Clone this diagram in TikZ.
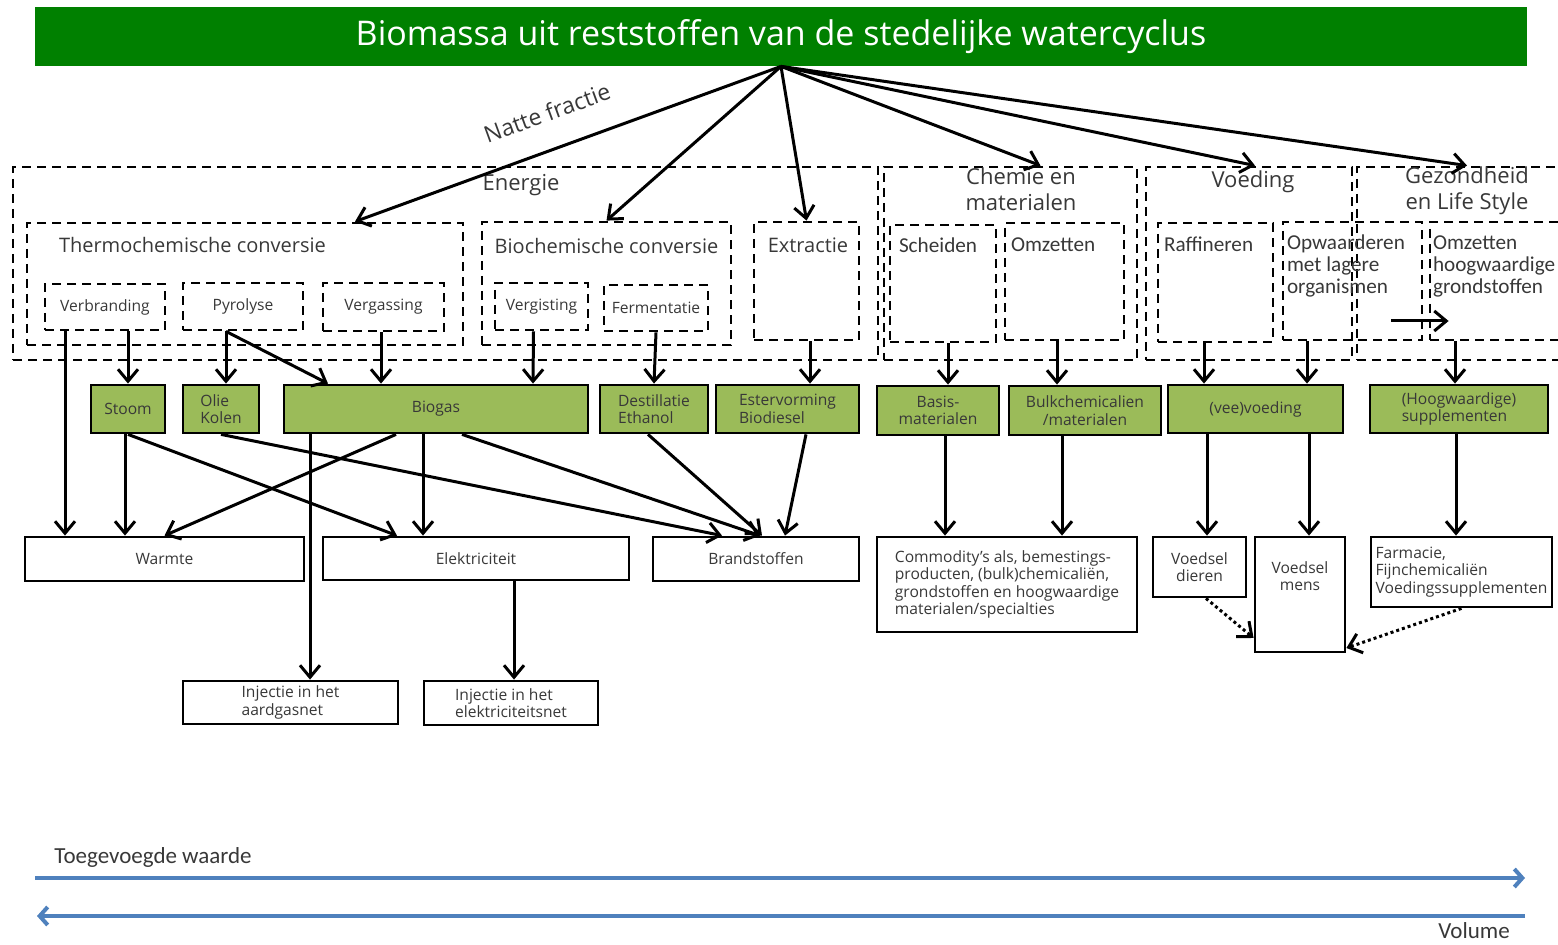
\documentclass[tikz,border=0pt]{standalone}
\usepackage{fontspec}
\setmainfont{Open Sans}
\newfontfamily\calib{Carlito}
\usetikzlibrary{arrows.meta}
\definecolor{titlegreen}{RGB}{0,128,0}
\definecolor{boxgreen}{RGB}{155,187,89}
\definecolor{axisblue}{RGB}{79,129,189}
\definecolor{txtgray}{RGB}{56,56,56}
\begin{document}
\begin{tikzpicture}[x=0.5pt,y=-0.5pt,
	sz/.style 2 args={minimum width=#1*0.5pt,minimum height=#2*0.5pt},
	dbox/.style={draw,line width=1.4pt,dash pattern=on 4.5pt off 3pt,inner sep=1pt,text=txtgray,font=\fontsize{7.8}{8.7}\selectfont},
	gbox/.style={draw,fill=boxgreen,line width=1.4pt,inner sep=1pt,text=txtgray,font=\fontsize{7.8}{8.7}\selectfont},
	wbox/.style={draw,fill=white,line width=1.4pt,inner sep=1pt,text=txtgray,font=\fontsize{7.8}{8.7}\selectfont},
	hd/.style={text=txtgray,font=\fontsize{11}{13}\selectfont,align=center,inner sep=0pt},
	sub/.style={text=txtgray,font=\fontsize{10}{12}\selectfont,inner sep=0pt},
	subc/.style={text=txtgray,font=\calib\fontsize{10.6}{11}\selectfont,align=left,inner sep=0pt},
	arr/.style={line width=1.5pt,-{Straight Barb[length=6pt,width=10pt]}},
	dotarr/.style={arr,dash pattern=on 1.5pt off 1.5pt},
	barr/.style={axisblue,line width=2pt,-{Straight Barb[length=4pt,width=9pt]}},
	axl/.style={text=txtgray,font=\calib\fontsize{11.5}{13}\selectfont,inner sep=0pt}]
	\useasboundingbox (0,0) rectangle (1558,945);
	\clip (0,0) rectangle (1558,945);
	% title
	\node[fill=titlegreen,text=white,font=\fontsize{17}{20}\selectfont,sz={1492}{59}] at (781,36.5) (title) {Biomassa uit reststoffen van de stedelijke watercyclus};
	% domains
	\node[dbox,sz={865}{193},label={[hd,anchor=north,xshift=37.75pt,yshift=-4pt]north:Energie}] at (445.5,263.5) (energie) {};
	\node[dbox,sz={253}{193},label={[hd,anchor=north,xshift=5.25pt,yshift=-1pt]north:Chemie en\\materialen}] at (1010.5,263.5) (chemie) {};
	\node[dbox,sz={206}{193},label={[hd,anchor=north,xshift=2pt,yshift=-2.5pt]north:Voeding}] at (1249,263.5) (voeding) {};
	\node[dbox,sz={220}{193},label={[hd,anchor=north,yshift=-0.5pt]north:Gezondheid\\en Life Style}] at (1467,263.5) (gezond) {};
	% processes
	\node[dbox,sz={436}{122},label={[sub,anchor=north west,xshift=16.5pt,yshift=-7.5pt]north west:Thermochemische conversie}] at (245,284) (thermo) {};
	\node[dbox,sz={120}{46}] at (105,307) (verbr) {Verbranding};
	\node[dbox,sz={120}{47}] at (243,306.5) (pyro) {Pyrolyse};
	\node[dbox,sz={121}{48}] at (383.5,307) (vergas) {Vergassing};
	\node[dbox,sz={249}{123},label={[sub,anchor=north,yshift=-8.5pt]north:Biochemische conversie}] at (606.5,283.5) (bio) {};
	\node[dbox,sz={93}{47}] at (541.5,306.5) (vergist) {Vergisting};
	\node[dbox,sz={104}{46}] at (656,308) (ferment) {Fermentatie};
	\node[dbox,sz={105}{118},label={[sub,anchor=north,xshift=0.75pt,yshift=-8.5pt]north:Extractie}] at (806.5,281) (extr) {};
	\node[dbox,sz={106}{117},label={[subc,anchor=north west,xshift=5pt,yshift=-7pt]north west:Scheiden}] at (943,283.5) (scheid) {};
	\node[dbox,sz={119}{117},label={[subc,anchor=north west,xshift=3.5pt,yshift=-8pt]north west:Omzetten}] at (1064.5,281.5) (omzet) {};
	\node[dbox,sz={115}{119},label={[subc,anchor=north west,xshift=3.5pt,yshift=-7.5pt]north west:Raffineren}] at (1215.5,282.5) (raffin) {};
	\node[dbox,sz={139}{118},label={[subc,anchor=north west,xshift=2.5pt,yshift=-7pt]north west:Opwaarderen\\met lagere\\organismen}] at (1352.5,281) (opwaard) {};
	\node[dbox,sz={170}{118},label={[subc,anchor=north west,xshift=2pt,yshift=-7.5pt]north west:Omzetten\\hoogwaardige\\grondstoffen}] at (1515,281) (omzhoog) {};
	% intermediates
	\node[gbox,sz={74}{48}] at (128,409) (stoom) {Stoom};
	\node[gbox,sz={76}{48},align=left] at (221,409) (olie) {Olie\\Kolen};
	\node[gbox,sz={304}{48}] at (436,409) (biogas) {Biogas};
	\node[gbox,sz={108}{48},align=left] at (654,409) (destil) {Destillatie\\Ethanol};
	\node[gbox,sz={143}{48},align=left] at (787.5,409) (ester) {Estervorming\\Biodiesel};
	\node[gbox,sz={122}{49},align=center] at (938,410.5) (basis) {Basis-\\materialen};
	\node[gbox,sz={152}{49},align=center] at (1085,410.5) (bulk) {Bulkchemicalien\\/materialen};
	\node[gbox,sz={175}{48}] at (1255.5,409) (vee) {(vee)voeding};
	\node[gbox,sz={178}{48},align=left] at (1459,409) (hoogw) {(Hoogwaardige)\\supplementen};
	% products
	\node[wbox,sz={279}{44}] at (164.5,559) (warmte) {Warmte};
	\node[wbox,sz={306}{43}] at (476,558.5) (elek) {Elektriciteit};
	\node[wbox,sz={206}{44}] at (756,559) (brand) {Brandstoffen};
	\node[wbox,sz={260}{95},align=left] at (1007,584.5) (commod) {Commodity’s als, bemestings-\\producten, (bulk)chemicaliën,\\grondstoffen en hoogwaardige\\materialen/specialties};
	\node[wbox,sz={93}{60},align=center] at (1199.5,567) (vdieren) {Voedsel\\dieren};
	\node[wbox,sz={90}{115},label={[anchor=north,align=center,text=txtgray,font=\fontsize{7.8}{8.7}\selectfont,yshift=-9.5pt]north:Voedsel\\mens}] at (1300,594.5) (vmens) {};
	\node[wbox,sz={181}{70},align=left] at (1461.5,572) (farma) {Farmacie,\\Fijnchemicaliën\\Voedingssupplementen};
	\node[wbox,sz={215}{43},align=left] at (290.5,702.5) (injgas) {Injectie in het\\aardgasnet};
	\node[wbox,sz={174}{44},align=left] at (511,703) (injel) {Injectie in het\\elektriciteitsnet};
	% fan out
	\path[arr] (title.south) edge node[hd,pos=.52,sloped,above=13pt,font=\fontsize{11.5}{13}\selectfont] {Natte fractie} ([xshift=55pt]thermo.north)
	(title.south) edge (bio.north)
	(title.south) edge (extr.north)
	(title.south) edge ([xshift=15pt]chemie.north)
	(title.south) edge ([xshift=3pt]voeding.north)
	(title.south) edge (gezond.north);
	% processes to intermediates
	\path[arr] ([xshift=11.5pt]verbr.south) edge (stoom.north)
	([xshift=-20pt]verbr.south) edge ([xshift=-49.75pt]warmte.north)
	([xshift=-8.5pt]pyro.south) edge ([xshift=2.5pt]olie.north)
	([xshift=-8.5pt]pyro.south) edge ([xshift=-54pt]biogas.north)
	([xshift=-1.25pt]vergas.south) edge ([xshift=-27.5pt]biogas.north)
	([xshift=-4pt]vergist.south) edge ([xshift=48.5pt]biogas.north)
	(ferment.south) edge (destil.north)
	([xshift=1.75pt]extr.south) edge ([xshift=11.25pt]ester.north)
	([xshift=2.5pt]scheid.south) edge ([xshift=5pt]basis.north)
	([xshift=-3.75pt]omzet.south) edge ([xshift=-14pt]bulk.north)
	([xshift=-5.75pt]raffin.south) edge ([xshift=-25.75pt]vee.north)
	([xshift=-22.75pt]opwaard.south) edge ([xshift=25.75pt]vee.north)
	([xshift=-30pt]omzhoog.south) edge ([xshift=-2pt]hoogw.north)
	([xshift=-16pt,yshift=-20pt]opwaard.east) edge ([xshift=10pt,yshift=-20pt]omzhoog.west);
	% intermediates to products
	\path[arr] ([xshift=-1.5pt]stoom.south) edge ([xshift=-19.75pt]warmte.north)
	(stoom.south) edge ([xshift=-39.5pt]elek.north)
	(olie.south) edge ([xshift=-17pt]brand.north)
	([xshift=-20pt]biogas.south) edge (warmte.north)
	([xshift=-6.5pt]biogas.south) edge ([xshift=-26.5pt]elek.north)
	([xshift=-63pt]biogas.south) edge ([xshift=9.75pt]injgas.north)
	([xshift=13pt]biogas.south) edge ([xshift=2pt]brand.north)
	([xshift=-3pt]destil.south) edge ([xshift=3pt]brand.north)
	([xshift=9.25pt]ester.south) edge ([xshift=14.5pt]brand.north)
	([xshift=19pt]elek.south) edge ([xshift=1.5pt]injel.north)
	([xshift=3.5pt]basis.south) edge ([xshift=-31pt]commod.north)
	([xshift=-11.5pt]bulk.south) edge ([xshift=27.5pt]commod.north)
	([xshift=-24.25pt]vee.south) edge ([xshift=3.75pt]vdieren.north)
	([xshift=26.75pt]vee.south) edge ([xshift=4.5pt]vmens.north)
	([xshift=-1.5pt]hoogw.south) edge ([xshift=-2.75pt]farma.north);
	\path[dotarr] ([xshift=3.25pt]vdieren.south) edge ([yshift=-21.75pt]vmens.west)
	(farma.south) edge ([yshift=-26.75pt]vmens.east);
	% value and volume
	\coordinate (wl) at (35,878);
	\coordinate (wr) at (1525,878);
	\coordinate (vr) at (1525,916);
	\coordinate (vl) at (37,916);
	\path[barr] (wl) edge (wr)
	(vr) edge (vl);
	\node[axl,anchor=west] at (54,857) (toeg) {Toegevoegde waarde};
	\node[axl] at (1474,931) (vol) {Volume};
\end{tikzpicture}
\end{document}
